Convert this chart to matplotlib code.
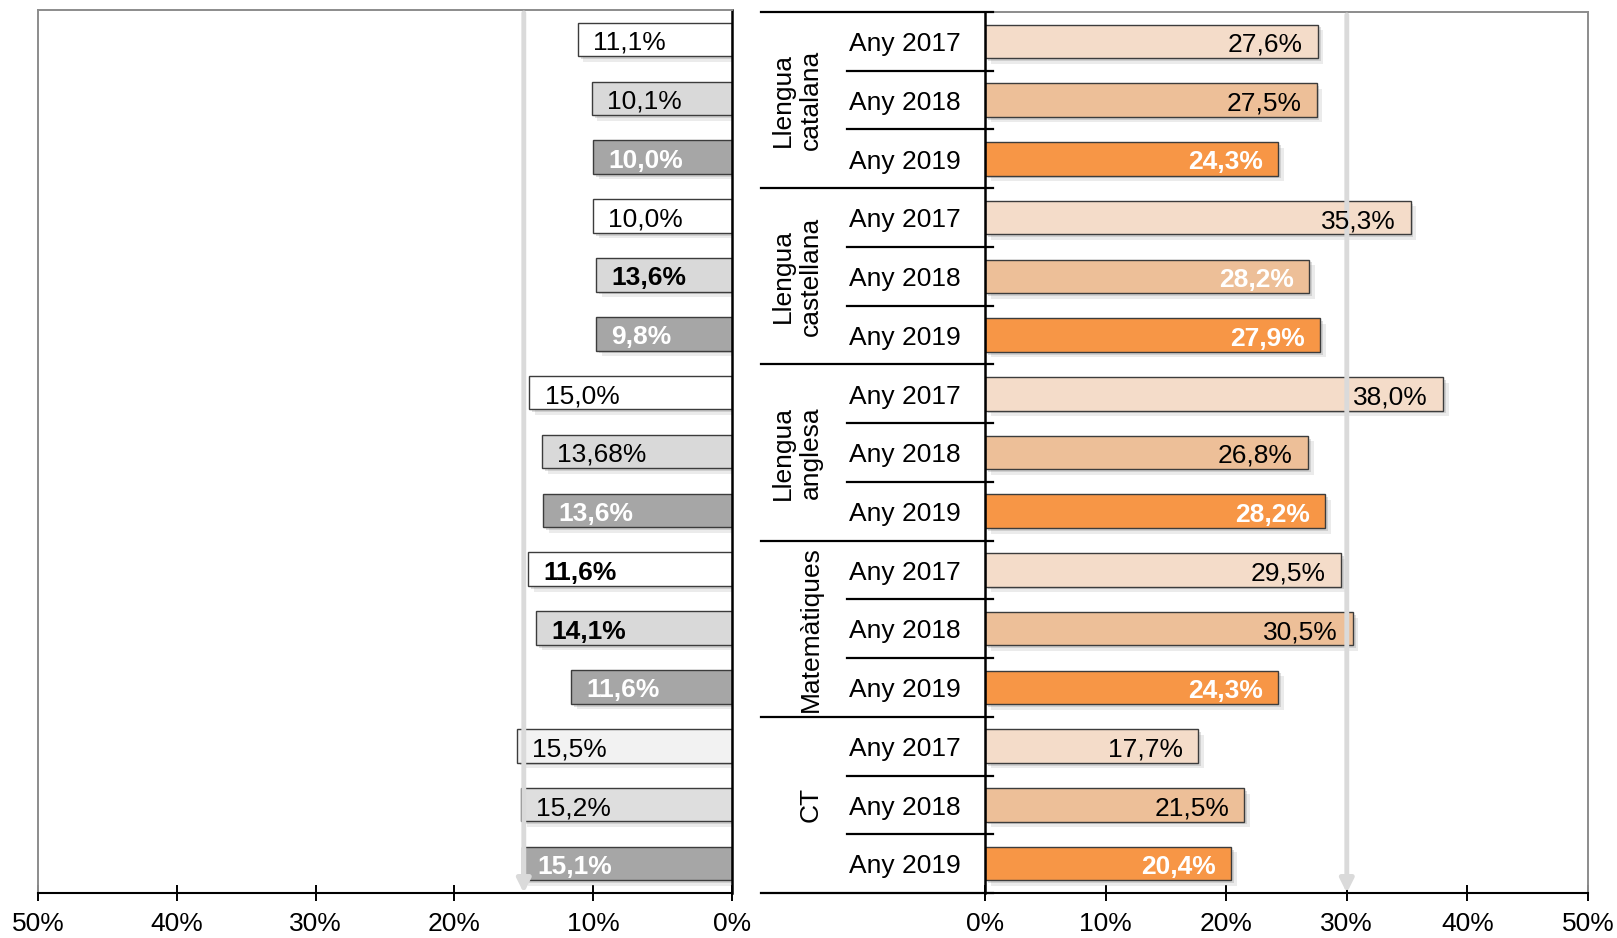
import numpy as np
import matplotlib
matplotlib.use("Agg")
import matplotlib.pyplot as plt
import matplotlib.patheffects as pe

plt.rcParams['font.family'] = ['Liberation Sans', 'DejaVu Sans']

groups = ["Llengua\ncatalana", "Llengua\ncastellana", "Llengua\nanglesa", "Matemàtiques", "CT"]
years = ["Any 2017", "Any 2018", "Any 2019"]

# left panel (bar lengths and their printed labels)
left_vals = [11.1, 10.1, 10.0, 10.0, 9.8, 9.8, 14.6, 13.68, 13.6, 14.7, 14.1, 11.6, 15.5, 15.2, 15.1]
left_labels = ["11,1%", "10,1%", "10,0%", "10,0%", "13,6%", "9,8%", "15,0%", "13,68%", "13,6%",
               "11,6%", "14,1%", "11,6%", "15,5%", "15,2%", "15,1%"]
left_bold = [0, 0, 1, 0, 1, 1, 0, 0, 1, 1, 1, 1, 0, 0, 1]
left_colors = ["#ffffff", "#d9d9d9", "#a6a6a6"] * 4 + ["#f2f2f2", "#dedede", "#a6a6a6"]

# right panel
right_vals = [27.6, 27.5, 24.3, 35.3, 26.9, 27.8, 38.0, 26.8, 28.2, 29.5, 30.5, 24.3, 17.7, 21.5, 20.4]
right_labels = ["27,6%", "27,5%", "24,3%", "35,3%", "28,2%", "27,9%", "38,0%", "26,8%", "28,2%",
                "29,5%", "30,5%", "24,3%", "17,7%", "21,5%", "20,4%"]
right_bold = [0, 0, 1, 0, 1, 1, 0, 0, 1, 0, 0, 1, 0, 0, 1]
right_colors = ["#f4dcc9", "#edbf98", "#f79646"] * 5

left_ref = 15
right_ref = 30

W, H = 1617, 938
fig = plt.figure(figsize=(W / 100, H / 100), dpi=100)

def box(x0, y0, x1, y1):
    return [x0 / W, (H - y1) / H, (x1 - x0) / W, (y1 - y0) / H]

axl = fig.add_axes(box(38, 10, 732, 893))
axr = fig.add_axes(box(985, 12, 1588, 893))

ypos = np.arange(15) + 0.5
fs = 19
shadow = [pe.SimplePatchShadow(offset=(4, -4), shadow_rgbFace='#b0b0b0', alpha=0.25),
          pe.SimplePatchShadow(offset=(2, -2), shadow_rgbFace='#909090', alpha=0.3),
          pe.Normal()]

bars = axl.barh(ypos, left_vals, height=0.57, color=left_colors, edgecolor='#3c3c3c', linewidth=1, zorder=2)
for b in bars:
    b.set_path_effects(shadow)
for i in range(15):
    col = 'white' if left_colors[i] == "#a6a6a6" else 'black'
    axl.annotate(left_labels[i], (left_vals[i], ypos[i]), xytext=(11, -2.5), textcoords='offset points',
                 ha='left', va='center', fontsize=fs, color=col,
                 fontweight='bold' if left_bold[i] else 'normal', zorder=4)

bars = axr.barh(ypos, right_vals, height=0.57, color=right_colors, edgecolor='#3c3c3c', linewidth=1, zorder=2)
for b in bars:
    b.set_path_effects(shadow)
for i in range(15):
    col = 'white' if right_bold[i] else 'black'
    axr.annotate(right_labels[i], (right_vals[i], ypos[i]), xytext=(-11, -2.5), textcoords='offset points',
                 ha='right', va='center', fontsize=fs, color=col,
                 fontweight='bold' if right_bold[i] else 'normal', zorder=4)

# reference arrows
for ax, xr in [(axl, left_ref), (axr, right_ref)]:
    ax.annotate('', xy=(xr, 15), xytext=(xr, 0.05),
                arrowprops=dict(arrowstyle='-|>', color='#dadada', lw=3.5, mutation_scale=20,
                                shrinkA=0, shrinkB=0), zorder=3)

axl.set_xlim(50, 0)
axr.set_xlim(0, 50)
for ax in (axl, axr):
    ax.set_ylim(15, 0)
    ax.set_yticks([])
    ax.set_xticks(np.arange(0, 51, 10))
    ax.set_xticklabels([f"{t}%" for t in range(0, 51, 10)])
    ax.tick_params(axis='x', direction='inout', length=11, width=1.4, pad=8.5, labelsize=19)
    ax.spines['bottom'].set_linewidth(1.5)
    ax.spines['top'].set_color('#8c8c8c')
    ax.spines['top'].set_linewidth(1.4)

axl.spines['left'].set_color('#8c8c8c')
axl.spines['left'].set_linewidth(1.4)
axl.spines['right'].set_linewidth(1.8)
axr.spines['right'].set_color('#8c8c8c')
axr.spines['right'].set_linewidth(1.4)
axr.spines['left'].set_linewidth(1.8)

# category axis on the right panel
tr = axr.get_yaxis_transform()
x_group = (761 - 985) / 603
x_year = (847 - 985) / 603
x_tick = 8 / 603
for k in range(16):
    x0 = x_group if k % 3 == 0 else x_year
    axr.plot([x0, x_tick], [k, k], color='black', lw=1.6, transform=tr, clip_on=False, zorder=5)
for i in range(15):
    axr.annotate(years[i % 3], ((961 - 985) / 603, ypos[i]), xycoords=tr, xytext=(0, -2),
                 textcoords='offset points', ha='right', va='center', fontsize=fs)
for g in range(5):
    axr.text((823 - 985) / 603, 3 * g + 1.5, groups[g], transform=tr, ha='right', va='center',
             rotation=90, fontsize=fs, multialignment='center')

fig.savefig("out.png", dpi=100)
